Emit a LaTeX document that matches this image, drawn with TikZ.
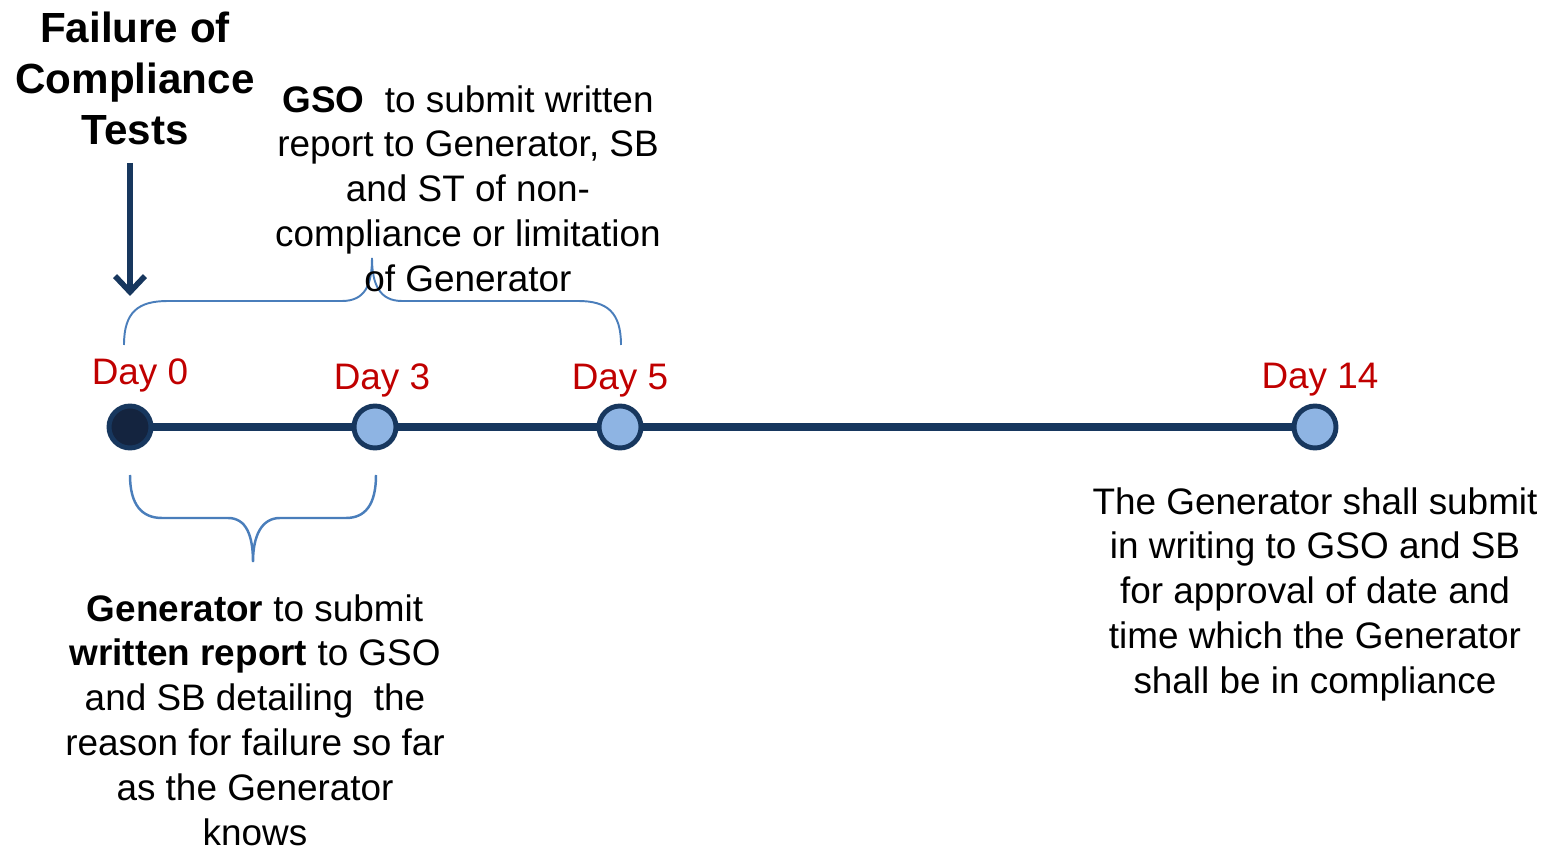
\documentclass[tikz,border=0pt]{standalone}
\usepackage{fontspec}
\setmainfont{Liberation Sans}
\usetikzlibrary{arrows.meta}

\definecolor{navy}{RGB}{23,55,94}
\definecolor{darknavy}{RGB}{20,36,63}
\definecolor{lightblue}{RGB}{142,180,227}
\definecolor{bracecol}{RGB}{74,126,187}
\definecolor{dayred}{RGB}{192,0,0}

\tikzstyle{day} = [draw=navy,
    line width=2.8pt,
    circle,
    minimum size=0.84cm,
    inner sep=0pt,
    fill=lightblue]
\tikzstyle{daylabel} = [text=dayred,
    font=\fontsize{21}{25}\selectfont,
    anchor=base,
    inner sep=0pt]
\tikzstyle{note} = [align=center,
    anchor=north,
    inner sep=0pt,
    font=\fontsize{21}{25.5}\selectfont]
\tikzstyle{brace} = [draw=bracecol,
    line width=1.4pt]
\tikzstyle{timeline} = [draw=navy,
    line width=4.5pt]

\begin{document}
\begin{tikzpicture}[x=0.02cm, y=-0.02cm]
            \useasboundingbox (0,0) rectangle (1553,847);
            \node (day0) [day, fill=darknavy] at (130,427) {};
            \node (day3) [day] at (375,427) {};
            \node (day5) [day] at (620,427) {};
            \node (day14) [day] at (1315,427) {};
            \draw [timeline] (day0) -- (day3);
            \draw [timeline] (day3) -- (day5);
            \draw [timeline] (day5) -- (day14);
            \node (lbl0) [daylabel] at (140,385) {Day 0};
            \node (lbl3) [daylabel] at (382,390) {Day 3};
            \node (lbl5) [daylabel] at (620,390) {Day 5};
            \node (lbl14) [daylabel] at (1320,389) {Day 14};
            \node (title) [note, font=\bfseries\fontsize{24}{29}\selectfont] at (135,12) {Failure of\\Compliance\\Tests};
            \coordinate (arrowstart) at (130,163);
            \coordinate (arrowend) at (130,296);
            \draw [navy, line width=3.2pt, -{Straight Barb[length=9pt,width=17pt]}] (arrowstart) -- (arrowend);
            % braces
            \draw [brace, line width=1.1pt] (124,345) .. controls (124,312) and (138,301) .. (168,301)
                -- (342,301) .. controls (365,301) and (372,285) .. (372,258)
                .. controls (372,285) and (380,301) .. (402,301)
                -- (578,301) .. controls (607,301) and (621,312) .. (621,345);
            \draw [brace] (130,475) .. controls (130,505) and (142,518) .. (162,518)
                -- (228,518) .. controls (246,518) and (253,535) .. (253,562)
                .. controls (253,535) and (262,518) .. (280,518)
                -- (346,518) .. controls (365,518) and (376,505) .. (376,475);
            \node (gsonote) [note] at (468,85) {\textbf{GSO}\ \ to submit written\\report to Generator, SB\\and ST of non-\\compliance or limitation\\of Generator};
            \node (gennote) [note] at (255,594) {\textbf{Generator} to submit\\\textbf{written report} to GSO\\and SB detailing\ \ the\\reason for failure so far\\as the Generator\\knows};
            \node (approvalnote) [note] at (1315,487) {The Generator shall submit\\in writing to GSO and SB\\for approval of date and\\time which the Generator\\shall be in compliance};
\end{tikzpicture}
\end{document}
